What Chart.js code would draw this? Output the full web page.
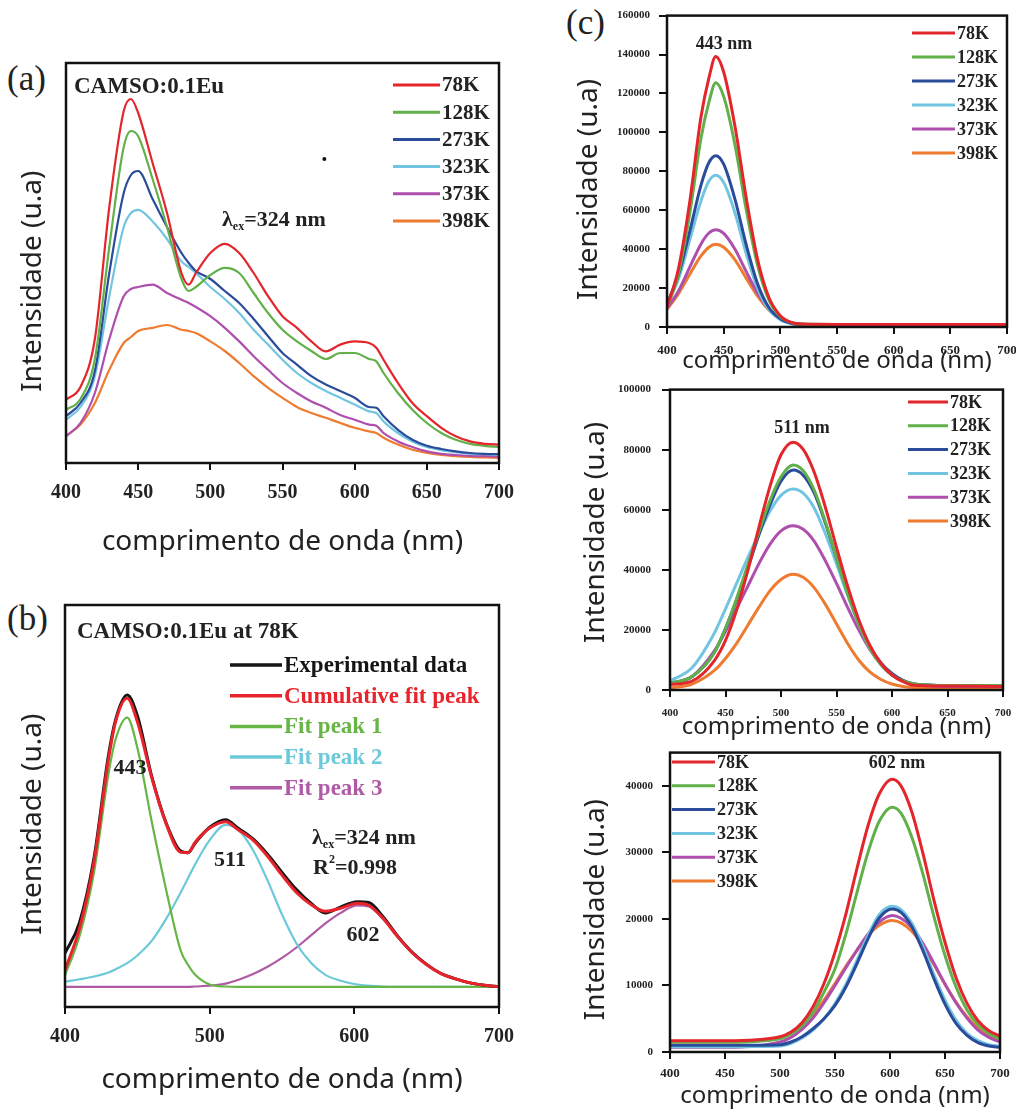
<!DOCTYPE html>
<html>
<head>
<meta charset="utf-8">
<script src="https://cdn.jsdelivr.net/npm/chart.js@4.4.1/dist/chart.umd.min.js"></script>
<style>
html, body { margin: 0; padding: 0; background: #fff; }
body { width: 1016px; height: 1109px; position: relative; overflow: hidden; }
canvas { position: absolute; }
.tag { position: absolute; font-family: "Liberation Serif", "Times New Roman", serif; font-size: 35px; line-height: 1; color: #222; }
</style>
</head>
<body>
<div class="tag" style="left:7px;top:61px">(a)</div>
<div class="tag" style="left:7px;top:601px">(b)</div>
<div class="tag" style="left:566px;top:5px">(c)</div>
<canvas id="chartA" width="530" height="520" style="left:0;top:40px"></canvas>
<canvas id="chartB" width="530" height="549" style="left:0;top:560px"></canvas>
<canvas id="chartC1" width="470" height="380" style="left:560px;top:0"></canvas>
<canvas id="chartC2" width="470" height="380" style="left:560px;top:372px"></canvas>
<canvas id="chartC3" width="470" height="380" style="left:560px;top:737px"></canvas>
<script>
// ---- data ----
const temps = ['78K', '128K', '273K', '323K', '373K', '398K'];

// (a) emission spectra, arbitrary units (0-100 = axis height)
const waveA = [400,410,420,430,440,445,450,460,470,480,485,490,500,510,520,530,540,550,560,570,580,590,600,610,615,620,630,640,650,660,670,680,690,700];
const a78  = [15.8,19,31,64,88,91,87.5,75,62.5,47.5,44.6,47.5,52.5,54.8,52.5,47.5,41.7,36.7,33.8,30.4,27.9,29.6,30.4,30,28.8,25.8,20,15,11.7,8.8,6.7,5.4,4.8,4.6];
const a128 = [13.3,16,26,54,79,83,81.7,71,59,46,43,44,47,48.8,47.5,42.5,37.5,33.3,30.4,28,26,27.5,27.5,26,25.4,22.5,17.5,13.3,10,7.5,5.8,4.8,4.3,4];
const a273 = [11.7,15,23,47.5,67.5,72,73,66,59,52.5,50,48,46,43,40,36,31.7,27.5,24.6,21.7,19.6,18,16.3,14,13.8,11.7,8.3,5.8,4.3,3.5,2.9,2.5,2.3,2.2];
const a323 = [10.8,14,21.7,41.7,59,62.5,63.3,60.4,56,50.4,49,47.5,44,41,37.5,33.3,29.6,25.8,22.5,20,18,16.3,14.6,12.9,12.5,10.4,7.5,5.4,4,3.2,2.7,2.3,2.2,2];
const a373 = [6.7,10,17.5,31,41.7,43.5,44,44.6,42.5,40.8,40,39,36.7,33.8,30.4,26.7,23.3,20,17.5,15.4,13.8,12,10.8,9.6,9.3,7.5,5.4,4,2.9,2.3,2,1.8,1.7,1.6];
const a398 = [6.7,9.6,15,23.3,30,31.5,33,33.8,34.5,33.3,33,32.5,30.4,28,25,21.7,18.8,16.3,14,12.5,11.3,10,8.8,7.9,7.5,6.3,4.6,3.3,2.5,2,1.7,1.5,1.4,1.3];
const strayDot = [{x: 579, y: 76}];

// (b) 78K spectrum and its three-peak fit
const waveB = [400,410,420,430,435,443,450,460,470,480,485,490,500,511,520,530,540,550,560,570,580,590,602,610,620,630,640,650,660,670,680,690,700];
const bExp   = [13.4,21,37,62.5,71.5,77.6,72.5,57.3,45.7,38.8,38.4,40.8,44.7,46.6,44.4,41.8,38,33.5,29.2,25.8,23.4,24.8,26.2,26,22.4,17.6,13.6,10.6,8.3,7,6,5.4,5.1];
const bSum   = [9.2,19.5,36,61.5,71,76.8,71,57,45.5,38.5,38.4,41,44.5,46.1,44,41.5,37.5,32.8,28.5,25.5,23.8,24.5,25.8,25.3,22,17.5,13.5,10.5,8.3,7,6,5.4,5.05];
const bPeak1 = [7.9,17.6,33.4,57.9,66.6,72,64.5,46,29,14,10.5,8,5.6,5.1,5,5,5,5,5,5,5,5,5,5,5,5,5,5,5,5,5,5,5];
const bPeak2 = [6.3,6.9,7.6,8.6,9.4,10.9,12.8,16.5,22,28.5,32,35.5,41.5,45.3,44,39,31.5,23,15.8,11,8,6.6,5.6,5.3,5.1,5,5,5,5,5,5,5,5];
const bPeak3 = [5,5,5,5,5,5,5,5,5,5,5,5.1,5.3,5.8,6.8,8.2,10,12.2,14.8,17.8,20.8,23.3,25.3,25,21.8,17.4,13.5,10.5,8.3,7,6,5.4,5.05];
const bNames = ['Experimental data', 'Cumulative fit peak', 'Fit peak 1', 'Fit peak 2', 'Fit peak 3'];

// (c) deconvoluted bands at 443, 511 and 602 nm
const waveC1 = [400,410,420,430,437,443,450,460,470,480,490,500,510,520,550,600,650,700];
const top78  = [10300,29600,64000,108000,128000,139000,131000,103000,66000,34500,15000,5800,2300,1500,1300,1300,1300,1300];
const top128 = [10000,27000,58000,97000,115500,125500,118500,93500,60000,31500,13800,5400,2200,1500,1300,1300,1300,1300];
const top273 = [12000,26600,49000,72900,84500,88000,83700,65600,42000,22100,9900,4200,1800,1200,1000,1000,1000,1000];
const top323 = [11500,24500,44500,64800,75000,78000,74300,58600,37500,19800,8900,3800,1700,1200,1000,1000,1000,1000];
const top373 = [9500,18400,30600,42700,48300,50000,48100,39900,28300,17400,9400,4400,2000,1300,900,900,900,900];
const top398 = [9000,17000,27000,36500,41000,42500,41000,34500,25000,15800,8600,4200,2000,1200,700,700,700,700];

const waveC2 = [400,420,440,450,460,470,480,490,500,511,520,530,540,550,560,570,580,590,600,610,620,650,700];
const mid78  = [1800,3000,9800,16500,26600,39600,54000,67700,78300,82500,80100,72400,60800,47500,34600,23500,14900,8900,5000,2800,1600,1300,1200];
const mid128 = [2200,4500,12500,20500,30500,41500,52500,63000,71000,74900,73000,66500,56000,44000,32000,22000,14000,8500,5000,3000,2000,1500,1500];
const mid273 = [2200,4500,12500,20500,30000,40500,51500,61500,69500,73200,71500,65500,55500,44000,32500,22500,14500,9000,5500,3200,2000,1500,1500];
const mid323 = [3000,7500,19000,27000,35500,44000,52000,59500,64800,66900,65500,60500,52000,42000,31500,22000,14000,8500,5000,3000,2000,1500,1500];
const mid373 = [2000,4500,13000,19500,27000,34500,42000,48500,53000,54700,53500,49500,43000,35500,27500,20000,13500,8500,5000,3000,1800,1200,1200];
const mid398 = [700,2000,6500,10500,15500,21500,27500,33000,36800,38500,37500,34000,28500,22000,15500,10000,6000,3500,2000,1200,800,500,500];

const waveC3 = [400,450,500,510,520,530,540,550,560,570,580,590,602,610,620,630,640,650,660,670,680,690,700];
const bot78  = [1700,1700,2300,3000,4400,6800,10300,15000,20800,27600,34000,38700,41000,40000,36000,29800,22800,16500,11200,7300,4700,3200,2400];
const bot128 = [1500,1500,2000,2700,3900,6000,9000,12500,17800,24000,30000,34600,36800,35900,32200,26700,20300,14500,9800,6300,4100,2800,2000];
const bot273 = [1000,1000,1100,1500,2300,3500,5000,7000,9800,13300,17000,20100,21500,21000,18800,15200,11000,7200,4300,2500,1400,900,700];
const bot323 = [800,800,900,1300,2100,3300,5000,7300,10200,13800,17500,20600,21900,21400,19300,15800,11600,7800,4800,2800,1700,1100,900];
const bot373 = [700,700,1500,2200,3400,5100,7400,10000,12700,15300,17700,19500,20500,20100,18700,16300,13300,10200,7400,5100,3300,2200,1500];
const bot398 = [1500,1500,2100,2900,4100,5700,7800,10300,12900,15300,17500,19000,19750,19400,18100,15900,13100,10200,7500,5300,3600,2500,1800];
const botTicks = [0, 10000, 20000, 30000, 40000];

// ---- look ----
const SERIF = '"Liberation Serif", "Times New Roman", serif';
const SANS = '"Noto Sans", "Open Sans", sans-serif';
const INK = '#222';
const tempColors = ['#e3262b', '#61b04a', '#2b4c9b', '#72c5e0', '#ae4fae', '#ee7b30'];
const fitColors = ['#151515', '#e8232b', '#66b545', '#6cc9d9', '#b05aa6'];

function series(rows, width) {
	return rows.map((r, i) => ({
		label: temps[i], data: r, borderColor: tempColors[i], borderWidth: width,
		pointRadius: 0, cubicInterpolationMode: 'monotone', fill: false
	}));
}

//black box round the plot area
function frame() {
	return {
		id: 'frame',
		afterDraw(chart) {
			const a = chart.chartArea, ctx = chart.ctx;
			ctx.save();
			ctx.strokeStyle = '#111';
			ctx.lineWidth = 2.5;
			ctx.strokeRect(a.left, a.top, a.right - a.left, a.bottom - a.top);
			ctx.restore();
		}
	};
}

//legend drawn inside the plot: short line + label per dataset
function key(o) {
	return {
		id: 'key',
		afterDatasetsDraw(chart) {
			const ctx = chart.ctx;
			chart.data.datasets.filter(d => d.label).forEach((d, i) => {
				const y = o.y0 + i * o.dy;
				ctx.save();
				ctx.strokeStyle = d.borderColor;
				ctx.lineWidth = o.lw;
				ctx.beginPath();
				ctx.moveTo(o.x0, y);
				ctx.lineTo(o.x1, y);
				ctx.stroke();
				ctx.fillStyle = o.tint ? d.borderColor : INK;
				ctx.font = 'bold ' + o.size + 'px ' + SERIF;
				ctx.textBaseline = 'middle';
				ctx.fillText(d.label, o.x1 + 2, y + 1);
				ctx.restore();
			});
		}
	};
}

//free text inside the plot (sub/superscripts as parts)
function notes(items) {
	return {
		id: 'notes',
		afterDatasetsDraw(chart) {
			const ctx = chart.ctx;
			items.forEach(it => {
				ctx.save();
				ctx.fillStyle = INK;
				ctx.textBaseline = 'middle';
				const fonts = it.parts.map(p => 'bold ' + Math.round(it.size * (p.scale || 1)) + 'px ' + SERIF);
				let w = 0;
				it.parts.forEach((p, k) => { ctx.font = fonts[k]; w += ctx.measureText(p.t).width; });
				let x = it.center ? it.x - w / 2 : it.x;
				it.parts.forEach((p, k) => {
					ctx.font = fonts[k];
					ctx.fillText(p.t, x, it.y + (p.dy || 0));
					x += ctx.measureText(p.t).width;
				});
				ctx.restore();
			});
		}
	};
}

function xAxis(o) {
	return {
		type: 'linear', min: 400, max: 700,
		ticks: { stepSize: o.step, autoSkip: false, maxRotation: 0, padding: o.pad, color: INK,
			font: { family: SERIF, weight: 'bold', size: o.tick } },
		grid: { drawOnChartArea: false, tickLength: 7, color: '#111', lineWidth: 2 },
		border: { display: false },
		title: { display: true, text: 'comprimento de onda (nm)', color: INK,
			font: { family: SANS, size: o.title }, padding: { top: 0, bottom: o.tpad } },
		afterFit: s => { s.height = o.h; }
	};
}

function yAxis(o) {
	const ax = {
		min: 0, max: o.max,
		border: { display: false },
		title: { display: true, text: o.text, color: INK,
			font: { family: SANS, size: 28 }, padding: { top: o.tpad, bottom: 0 } },
		afterFit: s => { s.width = o.w; }
	};
	if (o.step) {
		ax.ticks = { stepSize: o.step, includeBounds: false, padding: o.pad, color: INK,
			font: { family: SERIF, weight: 'bold', size: 11 }, callback: v => String(v) };
		ax.grid = { drawOnChartArea: false, tickLength: 8, color: '#111', lineWidth: 2 };
		if (o.values) {
			ax.afterBuildTicks = s => { s.ticks = o.values.map(v => ({ value: v })); };
		}
	} else {
		ax.ticks = { display: false };
		ax.grid = { display: false };
	}
	return ax;
}

function draw(id, labels, datasets, scales, padding, plugins) {
	return new Chart(document.getElementById(id), {
		type: 'line',
		data: { labels: labels, datasets: datasets },
		options: {
			responsive: false, animation: false, devicePixelRatio: 1, events: [],
			layout: { padding: padding },
			plugins: { legend: { display: false }, tooltip: { enabled: false } },
			scales: scales
		},
		plugins: plugins
	});
}

const lamEx = [{ t: 'λ' }, { t: 'ex', scale: 0.55, dy: 7 }, { t: '=324 nm' }];

// (a)
const dsA = series([a78, a128, a273, a323, a373, a398], 2.2);
dsA.push({ data: strayDot, showLine: false, pointRadius: 2, pointBackgroundColor: '#111', pointBorderWidth: 0 });
draw('chartA', waveA, dsA, {
	x: xAxis({ step: 50, tick: 20, pad: 11, title: 28, tpad: 1, h: 97 }),
	y: yAxis({ max: 100, w: 66, tpad: 16, text: 'Intensidade (u.a)     ' })
}, { top: 23, right: 31, left: 0, bottom: 0 }, [
	frame(),
	key({ x0: 393, x1: 440, y0: 45, dy: 27.2, size: 21, lw: 3 }),
	notes([
		{ parts: [{ t: 'CAMSO:0.1Eu' }], x: 74, y: 47, size: 23 },
		{ parts: lamEx, x: 222, y: 180, size: 22 }
	])
]);

// (b)
const dsB = [bExp, bSum, bPeak1, bPeak2, bPeak3].map((r, i) => ({
	label: bNames[i], data: r, borderColor: fitColors[i], borderWidth: i < 2 ? 3 : 2.2,
	pointRadius: 0, cubicInterpolationMode: 'monotone', fill: false, order: i === 1 ? 0 : i + 1
}));
draw('chartB', waveB, dsB, {
	x: xAxis({ step: 100, tick: 20, pad: 11, title: 28, tpad: 12, h: 102 }),
	y: yAxis({ max: 100, w: 65, tpad: 16, text: 'Intensidade (u.a)     ' })
}, { top: 45, right: 31, left: 0, bottom: 0 }, [
	frame(),
	key({ x0: 230, x1: 282, y0: 105, dy: 30.7, size: 23, lw: 3.5, tint: true }),
	notes([
		{ parts: [{ t: 'CAMSO:0.1Eu at 78K' }], x: 77, y: 72, size: 23 },
		{ parts: [{ t: '443' }], x: 130, y: 208, size: 22, center: true },
		{ parts: [{ t: '511' }], x: 230, y: 300, size: 22, center: true },
		{ parts: [{ t: '602' }], x: 363, y: 375, size: 22, center: true },
		{ parts: lamEx, x: 312, y: 278, size: 22 },
		{ parts: [{ t: 'R' }, { t: '2', scale: 0.55, dy: -8 }, { t: '=0.998' }], x: 313, y: 308, size: 22 }
	])
]);

// (c) 443 nm band
draw('chartC1', waveC1, series([top78, top128, top273, top323, top373, top398], 3), {
	x: xAxis({ step: 50, tick: 13, pad: 9, title: 24, tpad: 4, h: 53 }),
	y: yAxis({ max: 160000, step: 20000, pad: 9, w: 107, tpad: 12, text: 'Intensidade (u.a)     ' })
}, { top: 15, right: 23, left: 0, bottom: 0 }, [
	frame(),
	key({ x0: 352, x1: 395, y0: 33, dy: 24, size: 18, lw: 3 }),
	notes([{ parts: [{ t: '443 nm' }], x: 164, y: 44, size: 18, center: true }])
]);

// (c) 511 nm band
draw('chartC2', waveC2, series([mid78, mid128, mid273, mid323, mid373, mid398], 3), {
	x: xAxis({ step: 50, tick: 11, pad: 10, title: 24, tpad: 10, h: 62 }),
	y: yAxis({ max: 100000, step: 20000, pad: 11, w: 110, tpad: 19, text: '  Intensidade (u.a)' })
}, { top: 13, right: 27, left: 0, bottom: 0 }, [
	frame(),
	key({ x0: 348, x1: 388, y0: 30, dy: 23.8, size: 18, lw: 3 }),
	notes([{ parts: [{ t: '511 nm' }], x: 242, y: 56, size: 18, center: true }])
]);

// (c) 602 nm band
draw('chartC3', waveC3, series([bot78, bot128, bot273, bot323, bot373, bot398], 3), {
	x: xAxis({ step: 50, tick: 13, pad: 7, title: 24, tpad: 6, h: 65 }),
	y: yAxis({ max: 45000, step: 10000, values: botTicks, pad: 9, w: 110, tpad: 19, text: 'Intensidade (u.a)  ' })
}, { top: 7, right: 30, left: 0, bottom: 0 }, [
	frame(),
	key({ x0: 112, x1: 155, y0: 25, dy: 23.8, size: 18, lw: 3 }),
	notes([{ parts: [{ t: '602 nm' }], x: 337, y: 26, size: 18, center: true }])
]);
</script>
</body>
</html>
